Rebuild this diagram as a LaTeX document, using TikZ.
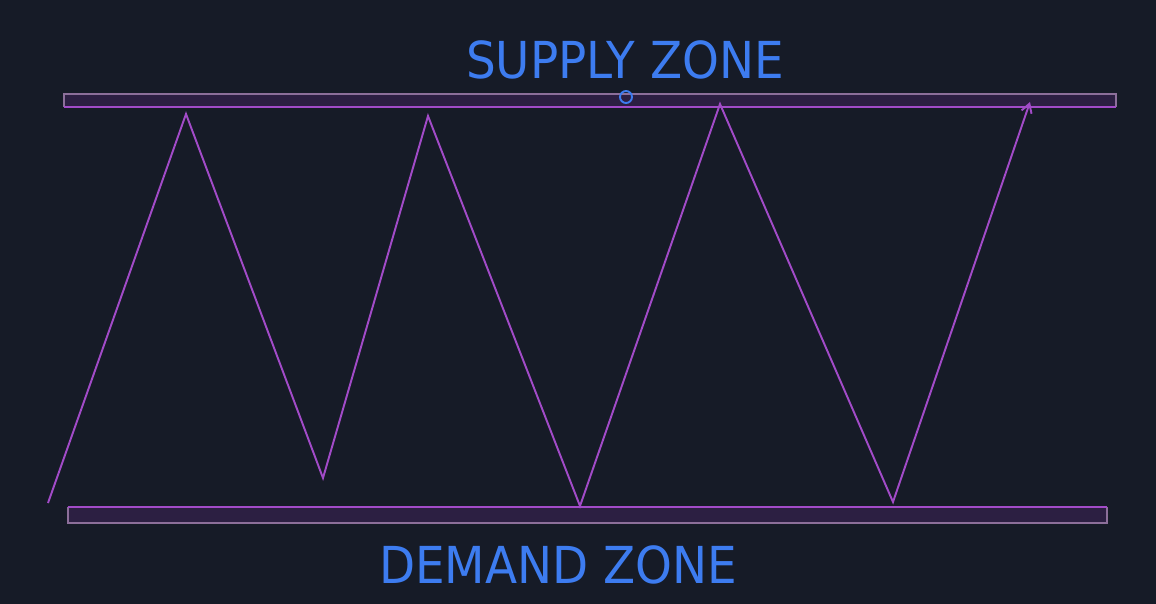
\documentclass[tikz,border=0pt]{standalone}
\usepackage{fontspec}
\setmainfont{DejaVu Sans}
\usetikzlibrary{arrows.meta}
\definecolor{bg}{HTML}{161B27}
\definecolor{zonefill}{HTML}{2C1F42}
\definecolor{zag}{HTML}{A24BC8}
\definecolor{edge}{HTML}{8C6F9A}
\definecolor{lbl}{HTML}{3D7CF0}
\tikzset{zonelbl/.style={lbl, xscale=0.92, font=\fontsize{29}{34}\selectfont}}
\begin{document}
\begin{tikzpicture}[x=0.02cm, y=-0.02cm, >={Straight Barb[length=5pt, width=6pt]}]
	\fill[bg] (0,0) rectangle (1156,604);
	\useasboundingbox (0,0) rectangle (1156,604);
	% zones
	\fill[zonefill] (64,94) rectangle (1116,107);
	\draw[edge, line width=0.8pt] (64,107) -- (64,94) -- (1116,94) -- (1116,107);
	\draw[zag, line width=0.9pt] (64,107) -- (1116,107);
	\fill[zonefill] (68,507) rectangle (1107,523);
	\draw[edge, line width=0.8pt] (68,507) -- (68,523) -- (1107,523) -- (1107,507);
	\draw[zag, line width=0.9pt] (68,507) -- (1107,507);
	% price swings
	\foreach \n/\px/\py in {0/48/503, 1/186/114, 2/323/478, 3/428/116, 4/580/506, 5/720/104, 6/893/502, 7/1030/102}
		\coordinate (p\n) at (\px,\py);
	\draw[zag, line width=1.1pt, ->, line join=miter] (p0) -- (p1) -- (p2) -- (p3) -- (p4) -- (p5) -- (p6) -- (p7);
	\draw[lbl, line width=1.1pt] (626,97) circle (6);
	\node[zonelbl] (supply) at (625,60) {SUPPLY ZONE};
	\node[zonelbl] (demand) at (558,565) {DEMAND ZONE};
\end{tikzpicture}
\end{document}
